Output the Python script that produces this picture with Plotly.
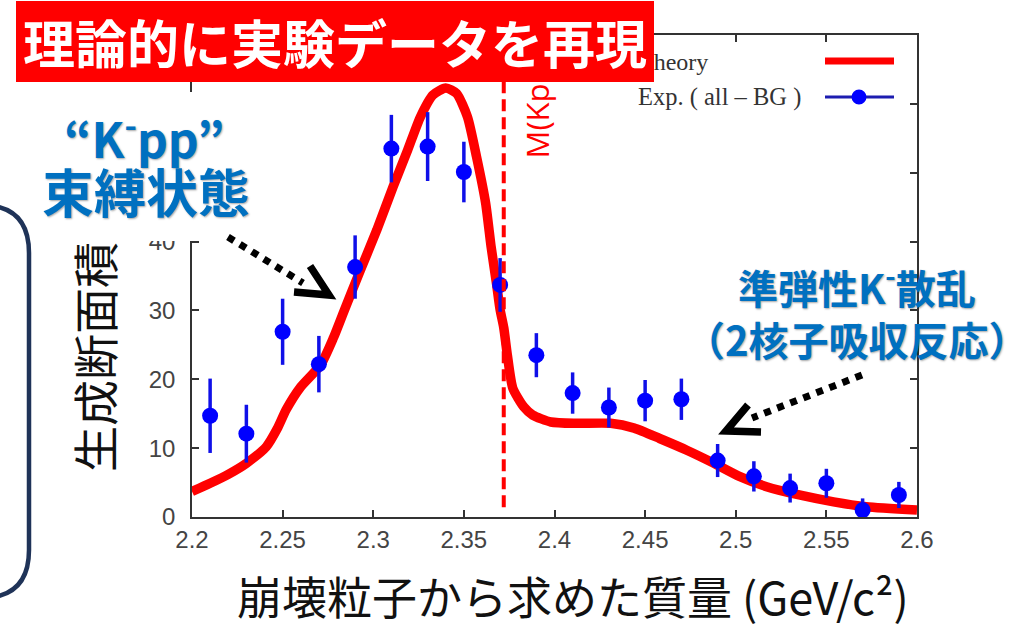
import plotly.graph_objects as go

# ---- data -------------------------------------------------------------
# measured spectrum (all - BG): bin centres, cross section and errors
exp_mass = [2.21, 2.23, 2.25, 2.27, 2.29, 2.31, 2.33, 2.35, 2.37, 2.39,
            2.41, 2.43, 2.45, 2.47, 2.49, 2.51, 2.53, 2.55, 2.57, 2.59]
exp_xs = [14.7, 12.1, 26.9, 22.2, 36.3, 53.5, 53.8, 50.1, 33.7, 23.5,
          18.0, 15.9, 16.9, 17.1, 8.2, 5.9, 4.2, 4.9, 1.0, 3.2]
exp_err = [5.4, 4.2, 4.8, 4.1, 4.6, 4.9, 5.0, 4.4, 3.9, 3.2,
           3.0, 2.9, 3.0, 3.0, 2.4, 2.2, 2.1, 2.1, 1.7, 1.9]

# theoretical curve
theory_mass = [2.200, 2.210, 2.220, 2.230, 2.241, 2.247, 2.252, 2.260, 2.271,
               2.278, 2.284, 2.293, 2.302, 2.311, 2.319, 2.326, 2.333, 2.340,
               2.346, 2.352, 2.357, 2.362, 2.365, 2.368, 2.370, 2.372, 2.374,
               2.377, 2.383, 2.388, 2.398, 2.412, 2.431, 2.444, 2.458, 2.473,
               2.488, 2.502, 2.517, 2.535, 2.554, 2.572, 2.600]
theory_xs = [3.7, 4.9, 6.2, 7.8, 10.2, 12.8, 15.6, 18.9, 22.1,
             26.0, 30.0, 35.9, 41.7, 48.0, 53.3, 58.1, 61.3, 62.3,
             61.5, 58.1, 52.3, 45.6, 39.3, 33.9, 30.1, 27.5, 23.5,
             18.7, 16.0, 14.8, 13.8, 13.6, 13.6, 12.9, 11.4, 9.7,
             7.8, 5.9, 4.4, 3.2, 2.2, 1.5, 1.0]

threshold_mass = 2.372   # M(Kpp)

x_ticks = [2.2, 2.25, 2.3, 2.35, 2.4, 2.45, 2.5, 2.55, 2.6]
x_tick_labels = ["2.2", "2.25", "2.3", "2.35", "2.4", "2.45", "2.5", "2.55", "2.6"]
# labelled y ticks; the upper ones (under the headline / callout panel)
# are drawn as unlabelled tick marks
y_ticks = [0, 10, 20, 30, 40]
y_tick_labels = ["0", "10", "20", "30", "40"]
y_ticks_unlabelled = [50, 60, 70]

# ---- layout helpers (pixel -> paper) ----------------------------------
W, H = 1032, 627
PL, PR, PT, PB = 192, 917, 35, 517


def fx(px):
    return (px - PL) / (PR - PL)


def fy(py):
    return (PB - py) / (PB - PT)


BLUE_TXT = "#0070c0"
JP = "Noto Sans CJK JP"
AX = "#333333"

fig = go.Figure()

fig.add_trace(go.Scatter(
    x=theory_mass, y=theory_xs, mode="lines",
    line=dict(color="#ff0000", width=9.5, shape="spline", smoothing=0.6),
    showlegend=False, hoverinfo="skip"))

fig.add_trace(go.Scatter(
    x=exp_mass, y=exp_xs, mode="markers",
    marker=dict(color="#0000ff", size=16),
    error_y=dict(type="data", array=exp_err, color="#1010e8",
                 thickness=3.5, width=0),
    showlegend=False))

shapes = []

# threshold line
shapes.append(dict(type="line", xref="x", yref="y",
                   x0=threshold_mass, x1=threshold_mass, y0=1.4, y1=70,
                   line=dict(color="#ff0000", width=4, dash="12px,6px"),
                   layer="above"))

# blank panel behind the upper-left labels
shapes.append(dict(type="rect", xref="paper", yref="paper",
                   x0=fx(0), x1=fx(330), y0=fy(241), y1=fy(92),
                   fillcolor="white", line=dict(width=0), layer="above"))


def path_px(points, close=False):
    parts = []
    for cmd, pts in points:
        coords = " ".join(f"{fx(a):.5f},{fy(b):.5f}" for a, b in pts)
        parts.append(f"{cmd} {coords}")
    return " ".join(parts) + (" Z" if close else "")


# rounded frame at the left edge
r = 48
box = [("M", [(-60, 205)]), ("L", [(29 - r, 205)]),
       ("Q", [(29, 205), (29, 205 + r)]), ("L", [(29, 598 - r)]),
       ("Q", [(29, 598), (29 - r, 598)]), ("L", [(-60, 598)])]
shapes.append(dict(type="path", xref="paper", yref="paper",
                   path=path_px(box, close=True), fillcolor="white",
                   line=dict(color="#1f3358", width=4.5), layer="above"))

# dotted arrows
shapes.append(dict(type="line", xref="paper", yref="paper",
                   x0=fx(228), y0=fy(237), x1=fx(303), y1=fy(283),
                   line=dict(color="black", width=7, dash="dot"), layer="above"))
shapes.append(dict(type="path", xref="paper", yref="paper",
                   path=path_px([("M", [(310, 266)]), ("L", [(329, 295)]),
                                 ("L", [(294, 292)])]),
                   line=dict(color="black", width=7.5), layer="above"))
shapes.append(dict(type="line", xref="paper", yref="paper",
                   x0=fx(862), y0=fy(375), x1=fx(752), y1=fy(418),
                   line=dict(color="black", width=7, dash="dot"), layer="above"))
shapes.append(dict(type="path", xref="paper", yref="paper",
                   path=path_px([("M", [(748, 405)]), ("L", [(726, 431)]),
                                 ("L", [(761, 432)])]),
                   line=dict(color="black", width=7.5), layer="above"))

# legend samples
shapes.append(dict(type="line", xref="paper", yref="paper",
                   x0=fx(825), x1=fx(894), y0=fy(61), y1=fy(61),
                   line=dict(color="#ff0000", width=7), layer="above"))
shapes.append(dict(type="line", xref="paper", yref="paper",
                   x0=fx(825), x1=fx(894), y0=fy(97), y1=fy(97),
                   line=dict(color="#1c1cb0", width=3), layer="above"))
shapes.append(dict(type="circle", xref="paper", yref="paper",
                   x0=fx(851.5), x1=fx(866.5), y0=fy(104.5), y1=fy(89.5),
                   fillcolor="#0000ff", line=dict(width=0), layer="above"))

shadow = "1px 1px 2px rgba(0,0,0,0.35)"
annotations = [
    # threshold label
    dict(text="M(Kpp)", x=fx(536), y=fy(161), xanchor="center", yanchor="bottom",
         textangle=-90, font=dict(family="Open Sans", size=31, color="#ff0000")),
    # legend text
    dict(text="Theory", x=fx(637), y=fy(62), xanchor="left", yanchor="middle",
         font=dict(family="Liberation Serif", size=24, color="#333333")),
    dict(text="Exp. ( all – BG )", x=fx(636), y=fy(97), xanchor="left",
         yanchor="middle",
         font=dict(family="Liberation Serif", size=24.5, color="#333333")),
    # axis titles
    dict(text="生成断面積", x=fx(93), y=fy(357), xanchor="center", yanchor="middle",
         textangle=-90, font=dict(family=JP, size=46, color="#111111")),
    dict(text="崩壊粒子から求めた質量 (GeV/c²)", x=fx(573), y=fy(595),
         xanchor="center", yanchor="middle",
         font=dict(family=JP, size=45, color="#111111")),
    # callouts
    dict(text="“K<sup>-</sup>pp”", x=fx(144), y=fy(135), xanchor="center",
         yanchor="middle",
         font=dict(family=JP, size=48, color=BLUE_TXT, weight="bold",
                   shadow=shadow)),
    dict(text="束縛状態", x=fx(146), y=fy(191), xanchor="center", yanchor="middle",
         font=dict(family=JP, size=52, color=BLUE_TXT, weight="bold",
                   shadow=shadow)),
    dict(text="準弾性K<sup>-</sup>散乱<br>（2核子吸収反応）", x=fx(857), y=fy(311),
         xanchor="center", yanchor="middle", align="center",
         font=dict(family=JP, size=40, color=BLUE_TXT, weight="bold",
                   shadow=shadow)),
    # headline banner
    dict(text="理論的に実験データを再現", x=fx(335), y=fy(41.5), xanchor="center",
         yanchor="middle", width=638, height=81, bgcolor="#ff0000",
         borderpad=0, borderwidth=0, align="center", valign="middle",
         font=dict(family=JP, size=52, color="white", weight="bold")),
]
for a in annotations:
    a.setdefault("xref", "paper")
    a.setdefault("yref", "paper")
    a.setdefault("showarrow", False)

axis_common = dict(showline=True, linecolor=AX, linewidth=1.5,
                   mirror="ticks", ticks="inside", ticklen=7, tickwidth=1.5,
                   tickcolor=AX, showgrid=False, zeroline=False,
                   tickfont=dict(family="Liberation Sans", size=24,
                                 color="#444444"))

fig.update_layout(
    width=W, height=H,
    margin=dict(l=PL, r=W - PR, t=PT, b=H - PB),
    paper_bgcolor="white", plot_bgcolor="white",
    xaxis=dict(range=[2.2, 2.6], tickvals=x_ticks, ticktext=x_tick_labels,
               **axis_common),
    yaxis=dict(range=[0, 70], tickvals=y_ticks, ticktext=y_tick_labels,
               ticklabelstandoff=10,
               minor=dict(tickmode="array", tickvals=y_ticks_unlabelled,
                          ticks="inside", ticklen=7, tickwidth=1.5,
                          tickcolor=AX, showgrid=False),
               **axis_common),
    shapes=shapes, annotations=annotations, showlegend=False,
)

fig.write_html("out.html")
